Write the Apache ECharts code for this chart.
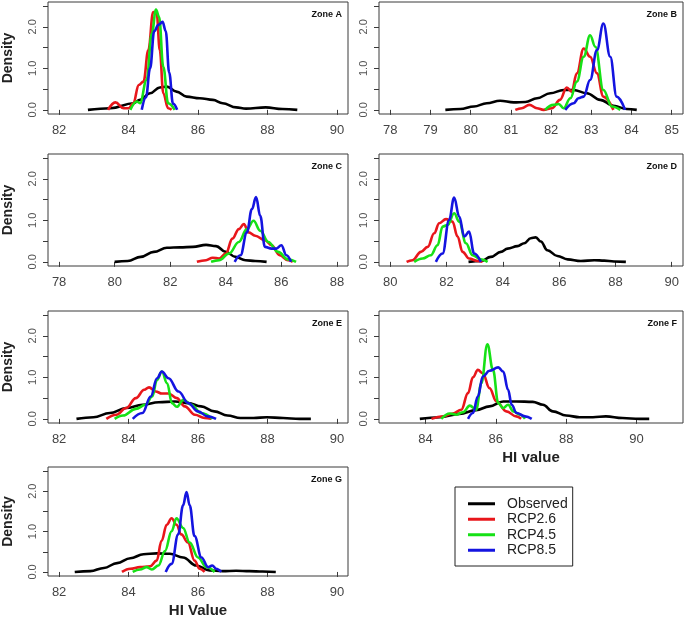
<!DOCTYPE html>
<html>
<head>
<meta charset="utf-8">
<title>HI value density by zone</title>
<script src="https://cdn.jsdelivr.net/npm/echarts@6.0.0/dist/echarts.min.js"></script>
<style>
  html, body { margin: 0; padding: 0; background: #fff; }
  #chart { width: 685px; height: 619px; }
</style>
</head>
<body>
<div id="chart"></div>
<script>
// series shown in every panel
const seriesNames = ['Observed', 'RCP2.6', 'RCP4.5', 'RCP8.5'];
const zoneNames = ['Zone A', 'Zone B', 'Zone C', 'Zone D', 'Zone E', 'Zone F', 'Zone G'];

// x limits given to each panel (R adds 4% on each side)
const xLimits = [[82, 90], [78, 85], [78, 88], [80, 90], [82, 90], [83, 91], [82, 90]];
const xTicks = [
  [82, 84, 86, 88, 90],
  [78, 79, 80, 81, 82, 83, 84, 85],
  [78, 80, 82, 84, 86, 88],
  [80, 82, 84, 86, 88, 90],
  [82, 84, 86, 88, 90],
  [84, 86, 88, 90],
  [82, 84, 86, 88, 90]
];
const yLimits = [0, 2.5];
const yTicks = [0, 0.5, 1, 1.5, 2, 2.5];
const yLabels = [0, 1, 2];

// density curves, [HI value, density]
const zoneA_obs = [[82.83,0],[83.48,0.04],[84.14,0.16],[84.33,0.24],[84.62,0.4],[84.9,0.54],[85.1,0.56],[85.38,0.44],[85.67,0.32],[86.05,0.28],[86.43,0.24],[86.71,0.16],[87.1,0.06],[87.38,0.03],[87.95,0.06],[88.43,0.02],[88.86,0]];
const zoneA_rcp26 = [[83.41,0],[83.62,0.18],[83.86,0.04],[84.0,0.04],[84.14,0.16],[84.29,0.6],[84.43,0.68],[84.57,1.44],[84.71,2.36],[84.81,2.32],[84.9,1.44],[85.0,0.4],[85.14,0.04],[85.24,0]];
const zoneA_rcp45 = [[84.05,0],[84.24,0.2],[84.33,0.16],[84.52,0.72],[84.67,1.84],[84.79,2.42],[84.88,2.24],[85.0,1.04],[85.14,0.16],[85.33,0]];
const zoneA_rcp85 = [[84.38,0],[84.5,0.3],[84.62,1.0],[84.74,1.9],[84.86,2.05],[84.98,2.12],[85.07,1.9],[85.17,0.9],[85.28,0.15],[85.4,0]];

const zoneB_obs = [[79.37,0],[79.74,0.02],[80.08,0.08],[80.4,0.16],[80.73,0.22],[81.07,0.18],[81.36,0.19],[81.65,0.28],[81.98,0.4],[82.31,0.48],[82.56,0.48],[82.89,0.4],[83.22,0.24],[83.55,0.1],[83.88,0.02],[84.13,0]];
const zoneB_rcp26 = [[81.11,0],[81.27,0.04],[81.46,0.12],[81.65,0.04],[81.81,0],[82.02,0.04],[82.22,0.24],[82.39,0.54],[82.51,0.44],[82.64,0.88],[82.81,1.48],[82.97,1.28],[83.14,0.88],[83.3,0.32],[83.55,0]];
const zoneB_rcp45 = [[81.85,0],[82.06,0.12],[82.19,0.14],[82.31,0.04],[82.48,0.28],[82.64,0.68],[82.81,1.28],[82.97,1.8],[83.1,1.52],[83.3,0.48],[83.51,0.08],[83.72,0]];
const zoneB_rcp85 = [[82.35,0],[82.56,0.16],[82.68,0.28],[82.81,0.32],[82.97,0.72],[83.14,1.44],[83.3,2.08],[83.47,1.28],[83.63,0.32],[83.84,0]];

const zoneC_obs = [[80.0,0],[80.47,0.02],[80.94,0.12],[81.41,0.24],[81.88,0.34],[82.35,0.35],[82.82,0.36],[83.29,0.41],[83.65,0.38],[84.0,0.24],[84.35,0.12],[84.71,0.04],[85.06,0.02],[85.47,0]];
const zoneC_rcp26 = [[82.96,0],[83.29,0.04],[83.53,0.1],[83.76,0.08],[84.0,0.2],[84.24,0.56],[84.47,0.79],[84.65,0.91],[84.82,0.71],[85.06,0.63],[85.41,0.52],[85.65,0.4],[85.94,0.16],[86.24,0.04],[86.41,0]];
const zoneC_rcp45 = [[83.47,0],[83.76,0.04],[84.12,0.2],[84.47,0.48],[84.76,0.79],[85.0,0.99],[85.24,0.75],[85.53,0.48],[85.88,0.24],[86.24,0.06],[86.53,0]];
const zoneC_rcp85 = [[84.32,0],[84.53,0.16],[84.76,0.71],[84.94,1.27],[85.09,1.56],[85.24,1.11],[85.41,0.36],[85.65,0.32],[85.82,0.32],[86.0,0.4],[86.18,0.16],[86.35,0]];

const zoneD_obs = [[82.78,0],[83.22,0.02],[83.57,0.12],[83.93,0.24],[84.17,0.32],[84.52,0.38],[84.76,0.45],[84.99,0.57],[85.17,0.59],[85.35,0.49],[85.58,0.28],[85.94,0.14],[86.3,0.06],[86.77,0.02],[87.25,0.04],[87.6,0.03],[87.95,0.01],[88.37,0]];
const zoneD_rcp26 = [[80.58,0],[80.79,0.04],[81.09,0.24],[81.33,0.36],[81.56,0.69],[81.74,0.93],[81.98,1.03],[82.21,0.97],[82.39,0.61],[82.57,0.24],[82.8,0.08],[83.1,0.02],[83.28,0]];
const zoneD_rcp45 = [[80.85,0],[81.15,0.08],[81.44,0.16],[81.68,0.4],[81.86,0.85],[82.04,0.89],[82.27,1.17],[82.45,0.97],[82.69,0.45],[82.92,0.16],[83.22,0.06],[83.46,0]];
const zoneD_rcp85 = [[81.62,0],[81.86,0.2],[82.09,1.01],[82.27,1.55],[82.45,1.09],[82.63,0.61],[82.8,0.73],[82.98,0.2],[83.22,0]];

const zoneE_obs = [[82.5,0],[82.99,0.04],[83.46,0.14],[83.93,0.26],[84.4,0.34],[84.87,0.4],[85.34,0.42],[85.72,0.38],[86.09,0.3],[86.47,0.18],[86.85,0.08],[87.22,0.02],[87.6,0.02],[87.98,0.04],[88.45,0.02],[88.92,0],[89.25,0]];
const zoneE_rcp26 = [[83.36,0],[83.65,0.1],[83.93,0.26],[84.21,0.5],[84.45,0.7],[84.59,0.76],[84.78,0.66],[84.96,0.61],[85.15,0.61],[85.39,0.5],[85.62,0.3],[85.91,0.1],[86.19,0.02],[86.38,0]];
const zoneE_rcp45 = [[83.6,0],[83.84,0.08],[84.21,0.24],[84.49,0.34],[84.68,0.54],[84.82,0.94],[84.96,1.14],[85.11,0.86],[85.25,0.38],[85.39,0.29],[85.58,0.46],[85.81,0.34],[86.09,0.14],[86.42,0]];
const zoneE_rcp85 = [[84.12,0],[84.4,0.14],[84.64,0.54],[84.82,0.98],[84.96,1.14],[85.15,0.98],[85.44,0.66],[85.72,0.38],[86.0,0.18],[86.28,0.06],[86.52,0]];

const zoneF_obs = [[83.84,0],[84.41,0.04],[84.97,0.12],[85.44,0.21],[85.82,0.3],[86.21,0.42],[86.58,0.42],[87.05,0.41],[87.34,0.34],[87.62,0.18],[88.0,0.08],[88.38,0.04],[88.76,0.04],[89.13,0.06],[89.6,0.02],[90.08,0],[90.36,0]];
const zoneF_rcp26 = [[84.17,0],[84.5,0.06],[84.78,0.13],[85.02,0.22],[85.21,0.62],[85.35,1.0],[85.49,1.18],[85.63,1.1],[85.82,0.74],[86.02,0.42],[86.3,0.18],[86.58,0.06],[86.72,0]];
const zoneF_rcp45 = [[84.45,0],[84.69,0.13],[84.88,0.1],[85.07,0.16],[85.26,0.32],[85.44,0.22],[85.59,0.86],[85.76,1.8],[85.92,1.18],[86.07,0.38],[86.21,0.26],[86.35,0.34],[86.5,0.18],[86.69,0.1],[86.83,0]];
const zoneF_rcp85 = [[85.21,0],[85.35,0.14],[85.49,0.54],[85.63,1.02],[85.82,1.16],[86.07,1.24],[86.21,1.14],[86.35,0.7],[86.45,0.34],[86.59,0.14],[86.83,0.06],[87.02,0]];

const zoneG_obs = [[82.45,0],[82.9,0.02],[83.29,0.1],[83.67,0.22],[84.05,0.34],[84.43,0.44],[84.81,0.46],[85.19,0.45],[85.57,0.36],[85.95,0.16],[86.33,0.04],[86.71,0.02],[87.1,0.03],[87.48,0.02],[87.86,0.01],[88.24,0]];
const zoneG_rcp26 = [[83.81,0],[84.05,0.08],[84.33,0.12],[84.62,0.14],[84.81,0.28],[84.95,0.77],[85.1,1.17],[85.24,1.33],[85.38,1.17],[85.52,0.93],[85.71,0.73],[85.9,0.28],[86.05,0.08],[86.19,0]];
const zoneG_rcp45 = [[84.12,0],[84.33,0.06],[84.52,0.12],[84.67,0.06],[84.86,0.16],[85.05,0.52],[85.24,1.01],[85.38,1.33],[85.57,1.09],[85.76,0.73],[86.0,0.36],[86.24,0.12],[86.48,0]];
const zoneG_rcp85 = [[85.07,0],[85.24,0.2],[85.43,0.93],[85.57,1.65],[85.67,1.98],[85.76,1.65],[85.9,0.89],[86.1,0.36],[86.29,0.12],[86.41,0.16],[86.52,0.08],[86.67,0]];

const zoneCurves = [
  [zoneA_obs, zoneA_rcp26, zoneA_rcp45, zoneA_rcp85],
  [zoneB_obs, zoneB_rcp26, zoneB_rcp45, zoneB_rcp85],
  [zoneC_obs, zoneC_rcp26, zoneC_rcp45, zoneC_rcp85],
  [zoneD_obs, zoneD_rcp26, zoneD_rcp45, zoneD_rcp85],
  [zoneE_obs, zoneE_rcp26, zoneE_rcp45, zoneE_rcp85],
  [zoneF_obs, zoneF_rcp26, zoneF_rcp45, zoneF_rcp85],
  [zoneG_obs, zoneG_rcp26, zoneG_rcp45, zoneG_rcp85]
];

const colors = ['#000000', '#e8161b', '#16e116', '#1414e0'];
const colLeft = [45, 379];
const colWidth = [303, 304];
const rowTop = [2, 154, 311, 467];
const panelH = 112;
const font = 'Arial, "Liberation Sans", sans-serif';

// R style 4% padding
const pad = (lo, hi) => [lo - 0.04 * (hi - lo), hi + 0.04 * (hi - lo)];

const myChart = echarts.init(document.getElementById('chart'), null, {renderer: 'canvas'});

const grids = [], xAxes = [], yAxes = [], series = [], titles = [];

zoneNames.forEach((zone, i) => {
  const col = i % 2, row = Math.floor(i / 2);
  const left = colLeft[col], top = rowTop[row], width = colWidth[col];
  grids.push({
    left: left, top: top, width: width, height: panelH,
    show: true, borderColor: '#3a3a3a', borderWidth: 1, containLabel: false
  });
  const [xmin, xmax] = pad(xLimits[i][0], xLimits[i][1]);
  const [ymin, ymax] = pad(yLimits[0], yLimits[1]);
  let xName = '';
  if (i === 5) xName = 'HI value';
  if (i === 6) xName = 'HI Value';
  xAxes.push({
    type: 'value', gridIndex: i, min: xmin, max: xmax,
    name: xName, nameLocation: 'middle', nameGap: 27,
    nameTextStyle: {fontFamily: font, fontWeight: 'bold', fontSize: 15, color: '#222'},
    axisLine: {show: false},
    axisTick: {show: true, length: 5, customValues: xTicks[i], lineStyle: {color: '#3a3a3a'}},
    axisLabel: {customValues: xTicks[i], fontFamily: font, fontSize: 13, color: '#444', margin: 10},
    splitLine: {show: false}
  });
  yAxes.push({
    type: 'value', gridIndex: i, min: ymin, max: ymax,
    name: col === 0 ? 'Density' : '', nameLocation: 'middle', nameGap: 33, nameRotate: 90,
    nameTextStyle: {fontFamily: font, fontWeight: 'bold', fontSize: 14, color: '#222'},
    axisLine: {show: false},
    axisTick: {show: true, length: 5, customValues: yTicks, lineStyle: {color: '#3a3a3a'}},
    axisLabel: {
      customValues: yLabels, rotate: 90, fontFamily: font, fontSize: 11, color: '#555', margin: 10,
      formatter: v => v.toFixed(1)
    },
    splitLine: {show: false}
  });
  titles.push({
    text: zone, right: 685 - (left + width) + 6, top: top + 8, padding: 0,
    textStyle: {fontFamily: font, fontWeight: 'bold', fontSize: 9, color: '#111'}
  });
  zoneCurves[i].forEach((curve, k) => {
    series.push({
      name: seriesNames[k], type: 'line', xAxisIndex: i, yAxisIndex: i,
      data: curve, smooth: 0.4, smoothMonotone: 'x', showSymbol: false, symbol: 'none',
      lineStyle: {color: colors[k], width: 2.6}, itemStyle: {color: colors[k]},
      silent: true, animation: false
    });
  });
});

const option = {
  backgroundColor: '#fff',
  animation: false,
  title: titles,
  grid: grids,
  xAxis: xAxes,
  yAxis: yAxes,
  legend: {
    data: seriesNames.map(n => ({name: n, icon: 'rect'})),
    orient: 'vertical', left: 455, top: 487,
    padding: [9, 5, 8, 13], itemGap: 0,
    itemWidth: 27, itemHeight: 3,
    borderColor: '#222', borderWidth: 1,
    textStyle: {fontFamily: font, fontSize: 14, color: '#222', lineHeight: 15.5, padding: [0, 0, 0, 7]},
    selectedMode: false
  },
  series: series
};

myChart.setOption(option);
</script>
</body>
</html>
